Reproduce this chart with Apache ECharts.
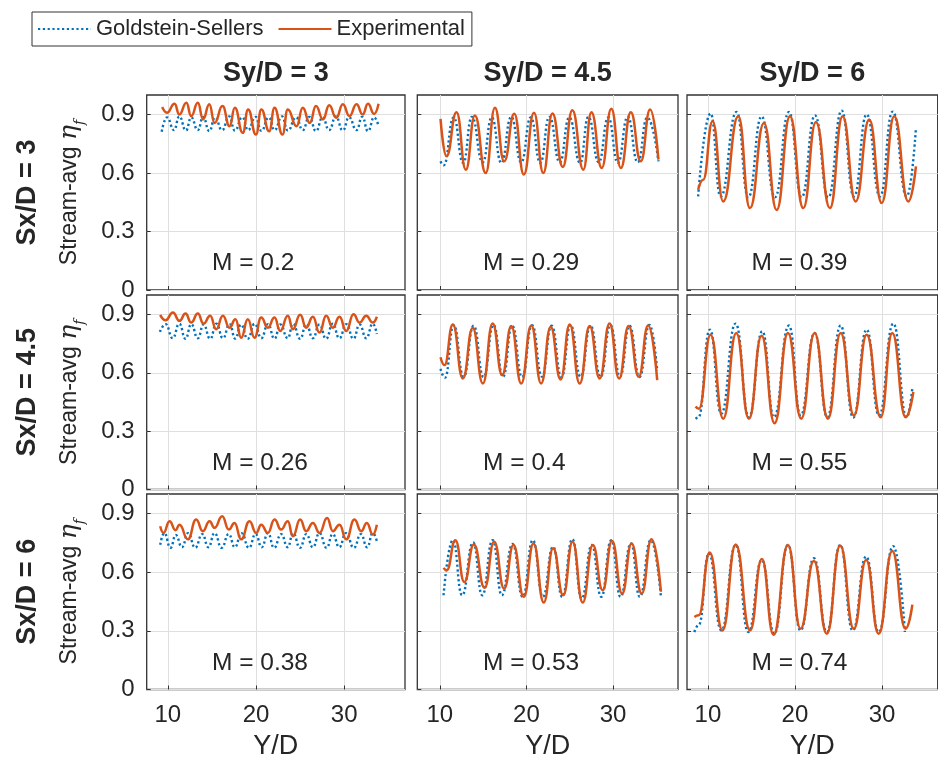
<!DOCTYPE html>
<html>
<head>
<meta charset="utf-8">
<script src="https://cdn.jsdelivr.net/npm/echarts@6/dist/echarts.min.js"></script>
<style>
  html, body { margin: 0; padding: 0; background: #fff; }
  #chart { width: 938px; height: 767px; }
</style>
</head>
<body>
<div id="chart"></div>
<script>
// rows: Sx/D, columns: Sy/D
const syLabels = ["Sy/D = 3", "Sy/D = 4.5", "Sy/D = 6"];
const sxLabels = ["Sx/D = 3", "Sx/D = 4.5", "Sx/D = 6"];
const blowingRatio = [
  [0.2, 0.29, 0.39],
  [0.26, 0.4, 0.55],
  [0.38, 0.53, 0.74]
];
const xTicks = [10, 20, 30];
const yTicks = [0, 0.3, 0.6, 0.9];

// [Y/D, stream-averaged effectiveness]
const gs_sx3_sy3 = [[9.3,0.812],[9.9,0.885],[10.7,0.82],[11.3,0.89],[12.05,0.818],[12.65,0.885],[13.4,0.82],[14.0,0.888],[14.7,0.815],[15.35,0.885],[16.15,0.82],[16.95,0.89],[17.6,0.818],[18.45,0.886],[19.1,0.82],[19.95,0.888],[20.6,0.816],[21.45,0.885],[22.1,0.82],[22.95,0.89],[23.6,0.818],[24.55,0.886],[25.3,0.82],[26.05,0.888],[26.8,0.815],[27.55,0.885],[28.3,0.82],[29.05,0.89],[29.85,0.818],[30.55,0.886],[31.4,0.82],[32.05,0.888],[32.7,0.815],[33.4,0.885],[33.9,0.84]];
const exp_sx3_sy3 = [[9.36,0.938],[9.9,0.909],[10.76,0.955],[11.3,0.9],[12.1,0.96],[12.65,0.892],[13.4,0.96],[14.0,0.875],[14.7,0.952],[15.3,0.857],[16.2,0.943],[17.0,0.84],[17.6,0.934],[18.5,0.806],[19.1,0.926],[20.0,0.797],[20.6,0.926],[21.5,0.814],[22.1,0.934],[23.0,0.797],[23.6,0.926],[24.6,0.84],[25.3,0.934],[26.1,0.857],[26.8,0.943],[27.6,0.875],[28.3,0.948],[29.1,0.883],[29.85,0.952],[30.6,0.892],[31.4,0.952],[32.1,0.9],[32.7,0.955],[33.4,0.903],[33.9,0.955]];

const gs_sx3_sy45 = [[10.08,0.66],[10.45,0.64],[11.6,0.885],[12.7,0.652],[13.7,0.888],[14.95,0.655],[16.0,0.885],[17.1,0.652],[18.25,0.888],[19.4,0.655],[20.5,0.885],[21.6,0.652],[22.65,0.888],[23.85,0.655],[24.95,0.885],[26.2,0.652],[27.15,0.888],[28.35,0.655],[29.45,0.885],[30.55,0.652],[31.7,0.888],[32.85,0.655],[33.95,0.885],[35.24,0.66]];
const exp_sx3_sy45 = [[10.08,0.878],[10.77,0.686],[11.93,0.912],[13.0,0.617],[14.05,0.895],[15.3,0.6],[16.36,0.934],[17.43,0.66],[18.6,0.904],[19.7,0.592],[20.87,0.909],[21.95,0.6],[23.0,0.905],[24.2,0.631],[25.3,0.922],[26.57,0.617],[27.5,0.912],[28.7,0.626],[29.8,0.929],[30.9,0.626],[32.05,0.912],[33.2,0.66],[34.28,0.926],[35.24,0.669]];

const gs_sx3_sy6 = [[8.88,0.48],[10.31,0.905],[11.46,0.48],[13.3,0.913],[14.64,0.475],[16.17,0.89],[17.7,0.475],[19.31,0.913],[20.77,0.475],[22.3,0.895],[23.83,0.475],[25.37,0.92],[26.78,0.48],[28.24,0.9],[29.77,0.48],[31.23,0.915],[32.84,0.48],[33.9,0.83]];
const exp_sx3_sy6 = [[8.88,0.514],[9.46,0.566],[10.54,0.866],[11.76,0.454],[13.49,0.891],[14.83,0.42],[16.44,0.857],[17.9,0.41],[19.43,0.891],[20.96,0.42],[22.41,0.861],[24.02,0.42],[25.48,0.891],[26.97,0.454],[28.54,0.874],[29.97,0.446],[31.41,0.891],[33.02,0.454],[33.9,0.634]];

const gs_sx45_sy3 = [[9.1,0.81],[9.75,0.85],[10.55,0.778],[11.3,0.852],[12.0,0.775],[12.65,0.85],[13.4,0.778],[14.05,0.848],[14.8,0.775],[15.5,0.852],[16.25,0.778],[17.0,0.85],[17.65,0.776],[18.3,0.848],[19.05,0.775],[19.85,0.852],[20.6,0.778],[21.35,0.85],[22.1,0.775],[22.75,0.848],[23.6,0.778],[24.2,0.852],[25.0,0.775],[25.7,0.85],[26.45,0.778],[27.2,0.848],[27.95,0.775],[28.7,0.852],[29.45,0.778],[30.25,0.85],[31.05,0.775],[31.75,0.848],[32.5,0.778],[33.25,0.852],[33.7,0.8]];
const exp_sx45_sy3 = [[9.13,0.898],[9.74,0.87],[10.57,0.91],[11.32,0.867],[12.0,0.905],[12.65,0.858],[13.4,0.905],[14.05,0.853],[14.8,0.893],[15.48,0.824],[16.24,0.893],[16.99,0.832],[17.67,0.875],[18.32,0.78],[19.07,0.875],[19.83,0.78],[20.59,0.884],[21.34,0.832],[22.1,0.884],[22.74,0.815],[23.61,0.893],[24.18,0.824],[25.01,0.898],[25.69,0.832],[26.45,0.888],[27.2,0.807],[27.96,0.893],[28.71,0.832],[29.47,0.888],[30.23,0.815],[31.06,0.901],[31.74,0.858],[32.5,0.893],[33.25,0.858],[33.71,0.888]];

const gs_sx45_sy45 = [[10.08,0.62],[10.6,0.575],[11.6,0.845],[12.75,0.58],[13.9,0.842],[15.05,0.578],[16.2,0.846],[17.3,0.58],[18.35,0.842],[19.5,0.578],[20.65,0.845],[21.8,0.58],[22.9,0.842],[24.05,0.578],[25.1,0.846],[26.25,0.58],[27.4,0.842],[28.55,0.578],[29.7,0.845],[30.8,0.58],[31.9,0.842],[33.05,0.578],[34.2,0.846],[35.1,0.61]];
const exp_sx45_sy45 = [[10.08,0.68],[10.54,0.64],[11.5,0.848],[12.66,0.571],[13.8,0.83],[14.97,0.545],[16.1,0.853],[17.2,0.588],[18.25,0.84],[19.4,0.545],[20.56,0.843],[21.7,0.545],[22.8,0.836],[23.95,0.566],[25.0,0.848],[26.15,0.545],[27.3,0.84],[28.46,0.571],[29.6,0.853],[30.7,0.571],[31.8,0.84],[32.97,0.58],[34.05,0.843],[35.1,0.562]];

const gs_sx45_sy6 = [[8.59,0.363],[8.9,0.37],[10.23,0.822],[11.53,0.39],[13.18,0.853],[14.71,0.372],[16.25,0.813],[17.59,0.372],[19.31,0.843],[20.65,0.381],[22.26,0.805],[23.72,0.372],[25.25,0.843],[26.7,0.37],[28.24,0.822],[29.66,0.381],[31.3,0.853],[32.84,0.372],[33.49,0.524]];
const exp_sx45_sy6 = [[8.59,0.427],[8.97,0.415],[10.31,0.796],[11.76,0.364],[13.26,0.804],[14.71,0.364],[16.17,0.79],[17.66,0.341],[19.2,0.804],[20.72,0.364],[22.26,0.804],[23.79,0.364],[25.25,0.804],[26.78,0.381],[28.24,0.796],[29.85,0.372],[31.18,0.804],[32.72,0.372],[33.6,0.502]];

const gs_sx6_sy3 = [[9.13,0.74],[9.6,0.8],[10.3,0.725],[10.9,0.79],[11.6,0.728],[12.3,0.8],[13.1,0.725],[13.9,0.795],[14.6,0.728],[15.3,0.8],[16.1,0.725],[16.9,0.795],[17.6,0.728],[18.35,0.8],[19.2,0.725],[19.95,0.795],[20.65,0.728],[21.35,0.8],[22.05,0.725],[22.85,0.795],[23.6,0.728],[24.2,0.8],[25.0,0.725],[25.7,0.795],[26.45,0.728],[27.2,0.8],[28.0,0.725],[28.7,0.795],[29.45,0.728],[30.2,0.8],[31.1,0.725],[31.9,0.795],[32.6,0.728],[33.25,0.8],[33.7,0.76]];
const exp_sx6_sy3 = [[9.13,0.835],[9.51,0.801],[10.19,0.861],[10.87,0.815],[11.32,0.843],[12.27,0.768],[13.21,0.869],[13.97,0.81],[14.73,0.861],[15.29,0.827],[16.16,0.886],[16.92,0.818],[17.56,0.852],[18.32,0.768],[19.26,0.861],[20.02,0.801],[20.59,0.843],[21.34,0.801],[22.1,0.869],[22.85,0.818],[23.61,0.861],[24.18,0.784],[25.01,0.869],[25.69,0.81],[26.45,0.852],[27.2,0.801],[28.07,0.877],[28.71,0.81],[29.47,0.843],[30.23,0.768],[31.17,0.869],[31.93,0.81],[32.57,0.852],[33.25,0.793],[33.71,0.843]];

const gs_sx6_sy45 = [[10.43,0.482],[11.51,0.764],[12.57,0.482],[13.85,0.752],[14.9,0.482],[16.1,0.764],[17.16,0.482],[18.4,0.745],[19.57,0.474],[20.74,0.764],[21.9,0.474],[23.08,0.73],[24.13,0.474],[25.3,0.769],[26.38,0.465],[27.55,0.739],[28.64,0.474],[29.8,0.764],[30.86,0.474],[32.07,0.747],[33.08,0.474],[34.36,0.764],[35.53,0.474]];
const exp_sx6_sy45 = [[10.43,0.622],[10.8,0.61],[11.8,0.764],[12.83,0.55],[13.93,0.742],[15.17,0.52],[16.27,0.756],[17.43,0.516],[18.5,0.739],[19.69,0.474],[20.82,0.747],[22.0,0.445],[23.08,0.722],[24.25,0.482],[25.33,0.756],[26.5,0.445],[27.66,0.739],[28.8,0.508],[29.88,0.759],[31.05,0.491],[32.14,0.747],[33.31,0.491],[34.44,0.769],[35.53,0.5]];

const gs_sx6_sy6 = [[8.45,0.294],[8.95,0.33],[10.11,0.696],[11.54,0.302],[13.2,0.739],[14.64,0.294],[16.2,0.662],[17.62,0.285],[19.2,0.739],[20.64,0.302],[22.18,0.671],[23.66,0.294],[25.2,0.739],[26.64,0.302],[28.18,0.68],[29.62,0.294],[31.29,0.733],[32.63,0.294]];
const exp_sx6_sy6 = [[8.45,0.371],[8.95,0.38],[10.2,0.701],[11.67,0.302],[13.2,0.742],[14.84,0.302],[16.2,0.667],[17.54,0.28],[19.2,0.739],[20.64,0.311],[22.18,0.657],[23.66,0.285],[25.2,0.736],[26.76,0.311],[28.18,0.662],[29.62,0.285],[31.17,0.708],[32.71,0.311],[33.49,0.434]];

const gsRows = [
  [gs_sx3_sy3, gs_sx3_sy45, gs_sx3_sy6],
  [gs_sx45_sy3, gs_sx45_sy45, gs_sx45_sy6],
  [gs_sx6_sy3, gs_sx6_sy45, gs_sx6_sy6]
];
const expRows = [
  [exp_sx3_sy3, exp_sx3_sy45, exp_sx3_sy6],
  [exp_sx45_sy3, exp_sx45_sy45, exp_sx45_sy6],
  [exp_sx6_sy3, exp_sx6_sy45, exp_sx6_sy6]
];

// layout
const colLeft = [146.7, 417.3, 687];
const colWidth = [258.3, 260.7, 250.7];
const colRange = [[7.6, 36.9], [7.4, 37.5], [7.6, 36.4]];
const rowTop = [95, 295, 494];
const rowHeight = [195, 194.5, 195.5];
const noteAt = [15, 0.135];

const textColor = "#262626";
const font = "'Liberation Sans', Arial, Helvetica, sans-serif";
const blue = "#0072BD";
const orange = "#D95319";

const grids = [], xAxes = [], yAxes = [], series = [], graphics = [];

for (let r = 0; r < 3; r++) {
  for (let c = 0; c < 3; c++) {
    const i = r * 3 + c;
    grids.push({
      left: colLeft[c], top: rowTop[r], width: colWidth[c], height: rowHeight[r],
      show: true, borderColor: "#333", borderWidth: 1.3, backgroundColor: "#fff"
    });
    xAxes.push({
      gridIndex: i, type: "value", min: colRange[c][0], max: colRange[c][1],
      axisLine: { show: false },
      axisTick: { show: true, inside: true, length: 4, customValues: xTicks, lineStyle: { color: "#333" } },
      axisLabel: { show: r === 2, customValues: xTicks, margin: 14, fontSize: 24, color: textColor, fontFamily: font },
      splitLine: { show: true, lineStyle: { color: "#dfdfdf", width: 1 } },
      name: r === 2 ? "Y/D" : "", nameLocation: "middle", nameGap: 44,
      nameTextStyle: { fontSize: 27, color: textColor, fontFamily: font }
    });
    yAxes.push({
      gridIndex: i, type: "value", min: 0, max: 1,
      axisLine: { show: false },
      axisTick: { show: true, inside: true, length: 4, customValues: yTicks, lineStyle: { color: "#333" } },
      axisLabel: { show: c === 0, customValues: yTicks, margin: 12, fontSize: 24, color: textColor, fontFamily: font },
      splitLine: { show: true, lineStyle: { color: "#dfdfdf", width: 1 } },
      name: c === 0 ? "Stream-avg {e|η}{f|f}" : "", nameLocation: "middle", nameRotate: 90, nameGap: 59,
      nameTextStyle: {
        fontSize: 23, color: textColor, fontFamily: font,
        rich: {
          e: { fontSize: 25, fontStyle: "italic", fontFamily: "'DejaVu Serif', serif", color: textColor },
          f: { fontSize: 14, fontStyle: "italic", fontFamily: "'DejaVu Serif', serif", color: textColor, verticalAlign: "bottom", lineHeight: 36 }
        }
      }
    });
    series.push({
      name: "Goldstein-Sellers", type: "line", xAxisIndex: i, yAxisIndex: i,
      data: gsRows[r][c], symbol: "none", smooth: 0.5, smoothMonotone: "x",
      lineStyle: { color: blue, width: 2.4, type: [2.2, 2.6], cap: "butt" },
      itemStyle: { color: blue }, silent: true, z: 2
    });
    series.push({
      name: "Experimental", type: "line", xAxisIndex: i, yAxisIndex: i,
      data: expRows[r][c], symbol: "none", smooth: 0.5, smoothMonotone: "x",
      lineStyle: { color: orange, width: 2.5 },
      itemStyle: { color: orange }, silent: true, z: 3
    });
    series.push({
      type: "scatter", xAxisIndex: i, yAxisIndex: i, data: [noteAt],
      symbolSize: 0, silent: true, itemStyle: { opacity: 1 },
      label: {
        show: true, position: "right", distance: 0, opacity: 1,
        formatter: "M = " + blowingRatio[r][c],
        fontSize: 24.5, color: textColor, fontFamily: font
      }
    });
  }
}

for (let c = 0; c < 3; c++) {
  graphics.push({
    type: "text", x: colLeft[c] + colWidth[c] / 2, y: 74,
    style: { text: syLabels[c], fill: textColor, font: "bold 27px " + font, align: "center", verticalAlign: "middle" }
  });
}
for (let r = 0; r < 3; r++) {
  graphics.push({
    type: "text", x: 28, y: rowTop[r] + rowHeight[r] / 2, rotation: Math.PI / 2,
    style: { text: sxLabels[r], fill: textColor, font: "bold 27px " + font, align: "center", verticalAlign: "middle" }
  });
}

const chart = echarts.init(document.getElementById("chart"));
chart.setOption({
  animation: false,
  backgroundColor: "#fff",
  textStyle: { fontFamily: font },
  grid: grids,
  xAxis: xAxes,
  yAxis: yAxes,
  series: series,
  graphic: graphics,
  legend: {
    data: ["Goldstein-Sellers", "Experimental"],
    left: 32, top: 12, orient: "horizontal",
    itemWidth: 53, itemHeight: 14, itemGap: 14,
    padding: [6, 7, 6, 5],
    borderColor: "#333", borderWidth: 1, backgroundColor: "#fff",
    itemStyle: { opacity: 0 },
    textStyle: { fontSize: 22, color: textColor, fontFamily: font },
    selectedMode: false
  }
});
</script>
</body>
</html>
